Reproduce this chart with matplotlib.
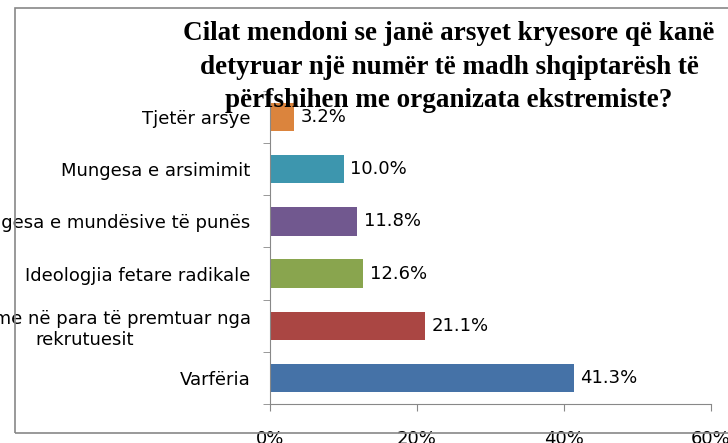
import matplotlib
matplotlib.use("Agg")
import matplotlib.pyplot as plt
from matplotlib.patches import Rectangle
from matplotlib.ticker import FuncFormatter

# data (bottom to top)
categories = ["Varfëria",
              "Shpërblime në para të premtuar nga\nrekrutuesit",
              "Ideologjia fetare radikale",
              "Mungesa e mundësive të punës",
              "Mungesa e arsimimit",
              "Tjetër arsye"]
values = [41.3, 21.1, 12.6, 11.8, 10.0, 3.2]
colors = ["#4572A7", "#AA4643", "#89A54E", "#71588F", "#3D96AE", "#DB843D"]
x_ticks = [0, 20, 40, 60]

title = ("Cilat mendoni se janë arsyet kryesore që kanë\n"
         "detyruar një numër të madh shqiptarësh të\n"
         "përfshihen me organizata ekstremiste?")

W, H = 728, 443
fig = plt.figure(figsize=(W / 100, H / 100), dpi=100)
ax = fig.add_axes([270 / W, 1 - 404 / H, (711 - 270) / W, (404 - 91) / H])

pos = range(len(categories))
ax.barh(pos, values, height=0.54, color=colors)
for p, v in zip(pos, values):
    ax.annotate(f"{v:.1f}%", (v, p), xytext=(5, 0), textcoords="offset points",
                va="center", ha="left", fontsize=13, color="black")

ax.set_xlim(0, 60)
ax.set_ylim(-0.5, len(categories) - 0.5)
ax.set_xticks(x_ticks)
ax.xaxis.set_major_formatter(FuncFormatter(lambda v, _: f"{v:.0f}%"))
ax.set_yticks(list(pos))
ax.set_yticklabels(categories)
ax.set_yticks([i - 0.5 for i in range(len(categories) + 1)], minor=True)

grey = "#888888"
for s in ["top", "right"]:
    ax.spines[s].set_visible(False)
for s in ["left", "bottom"]:
    ax.spines[s].set_color(grey)
ax.tick_params(axis="y", which="major", length=0, pad=14, labelsize=13)
ax.tick_params(axis="y", which="minor", length=5, color=grey, direction="out")
ax.tick_params(axis="x", length=5, color=grey, direction="out", pad=14, labelsize=13)
for lab in ax.get_yticklabels():
    lab.set_multialignment("center")

fig.text(449 / W, 1 - 67 / H, title, ha="center", va="center", fontsize=19.5,
         fontfamily="Liberation Serif", fontweight="bold", linespacing=1.45)

# outer chart frame (right edge lies beyond the image)
fig.add_artist(Rectangle((15 / W, 1 - 433 / H), 1.0, (433 - 8) / H,
                         transform=fig.transFigure, fill=False,
                         edgecolor=grey, lw=1.2, zorder=5))

fig.savefig("out.png", dpi=100)
